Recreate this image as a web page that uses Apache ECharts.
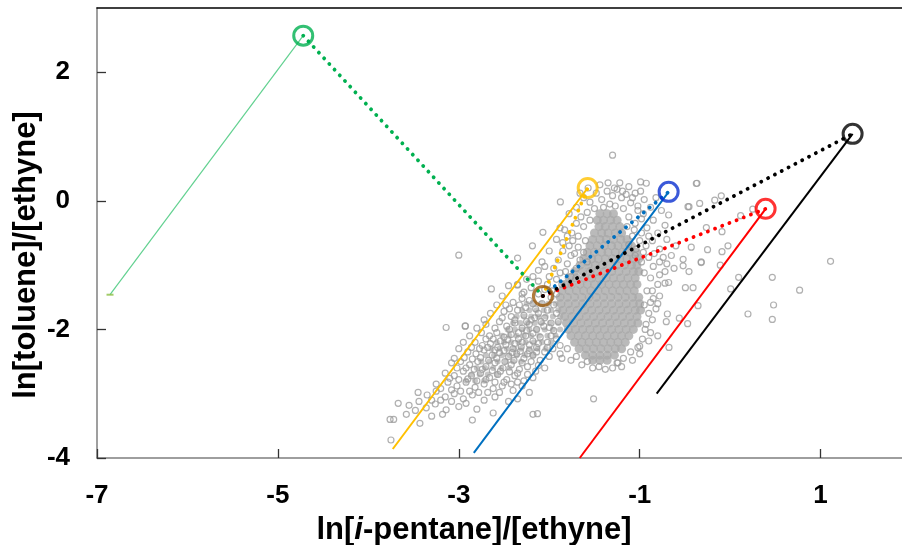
<!DOCTYPE html>
<html><head><meta charset="utf-8">
<script src="https://cdn.jsdelivr.net/npm/echarts@6/dist/echarts.min.js"></script>
<style>html,body{margin:0;padding:0;background:#fff}#c{width:902px;height:545px}</style>
</head><body><div id="c"></div>
<script>
const xTicks = [-7, -5, -3, -1, 1];
const yTicks = [-4, -2, 0, 2];

// endpoints (circles): green, yellow, blue, red, black, brown
const endX = [-4.72, -1.575, -0.68, 0.392, 1.354, -2.07];
const endY = [2.57, 0.20, 0.14, -0.124, 1.042, -1.48];
// solid line start points: green, yellow, blue, red, black
const startX = [-6.856, -3.73, -2.834, -1.663, -0.812];
const startY = [-1.46, -3.86, -3.92, -4.0, -3.0];

// dense core of observations
const coreRows = [
  [-0.20, [-1.44, -1.36, -1.29]],
  [-0.30, [-1.47, -1.40, -1.32, -1.25]],
  [-0.40, [-1.45, -1.38, -1.30, -1.22]],
  [-0.50, [-1.50, -1.42, -1.35, -1.27, -1.20]],
  [-0.60, [-1.52, -1.44, -1.37, -1.29, -1.21, -1.14]],
  [-0.70, [-1.55, -1.47, -1.39, -1.31, -1.24, -1.16, -1.09]],
  [-0.80, [-1.58, -1.50, -1.42, -1.35, -1.27, -1.19, -1.11, -1.04]],
  [-0.90, [-1.62, -1.53, -1.46, -1.38, -1.30, -1.22, -1.14, -1.07, -1.01]],
  [-1.00, [-1.66, -1.57, -1.49, -1.41, -1.33, -1.25, -1.17, -1.09, -1.03]],
  [-1.10, [-1.72, -1.63, -1.55, -1.47, -1.39, -1.31, -1.23, -1.15, -1.07, -1.01]],
  [-1.20, [-1.78, -1.70, -1.61, -1.53, -1.45, -1.37, -1.29, -1.21, -1.13, -1.05]],
  [-1.30, [-1.83, -1.75, -1.66, -1.58, -1.50, -1.42, -1.34, -1.26, -1.18, -1.10, -1.03]],
  [-1.40, [-1.86, -1.78, -1.70, -1.62, -1.54, -1.46, -1.38, -1.30, -1.22, -1.14, -1.06]],
  [-1.50, [-1.88, -1.80, -1.72, -1.64, -1.56, -1.48, -1.40, -1.32, -1.24, -1.16, -1.08, -1.01]],
  [-1.60, [-1.87, -1.79, -1.71, -1.63, -1.55, -1.47, -1.39, -1.31, -1.23, -1.15, -1.07, -1.00]],
  [-1.70, [-1.85, -1.77, -1.69, -1.61, -1.53, -1.45, -1.37, -1.29, -1.21, -1.13, -1.05, -0.99]],
  [-1.80, [-1.83, -1.75, -1.67, -1.59, -1.51, -1.43, -1.35, -1.27, -1.19, -1.11, -1.03]],
  [-1.90, [-1.81, -1.73, -1.65, -1.57, -1.49, -1.41, -1.33, -1.25, -1.17, -1.09, -1.02]],
  [-2.00, [-1.79, -1.71, -1.63, -1.55, -1.47, -1.39, -1.31, -1.23, -1.15, -1.07]],
  [-2.10, [-1.76, -1.68, -1.60, -1.52, -1.44, -1.36, -1.28, -1.20, -1.12]],
  [-2.20, [-1.72, -1.64, -1.56, -1.48, -1.40, -1.32, -1.24, -1.16]],
  [-2.30, [-1.67, -1.59, -1.51, -1.43, -1.35, -1.27, -1.20]],
  [-2.40, [-1.60, -1.52, -1.44, -1.36, -1.28]],
  [-2.48, [-1.52, -1.44, -1.36]]
];

// medium-density band of observations (lower-left arm)
const armRows = [
  [-1.60, [-2.25, -2.17, -2.09, -2.01, -1.93]],
  [-1.70, [-2.30, -2.22, -2.14, -2.06, -1.98, -1.90]],
  [-1.80, [-2.36, -2.28, -2.20, -2.12, -2.04, -1.96, -1.88]],
  [-1.90, [-2.40, -2.32, -2.24, -2.16, -2.08, -1.99, -1.90]],
  [-2.00, [-2.46, -2.38, -2.30, -2.22, -2.14, -2.05, -1.96, -1.88]],
  [-2.10, [-2.52, -2.44, -2.36, -2.28, -2.20, -2.11, -2.02, -1.93]],
  [-2.20, [-2.58, -2.50, -2.42, -2.34, -2.26, -2.17, -2.08, -1.98]],
  [-2.30, [-2.64, -2.55, -2.47, -2.39, -2.31, -2.22, -2.13, -2.04]],
  [-2.40, [-2.70, -2.61, -2.52, -2.44, -2.36, -2.27, -2.18]],
  [-2.50, [-2.75, -2.66, -2.57, -2.48, -2.40, -2.31]],
  [-2.60, [-2.80, -2.71, -2.62, -2.53, -2.44]],
  [-2.70, [-2.86, -2.77, -2.68, -2.58]],
  [-2.80, [-2.92, -2.82, -2.72]]
];

// individual observations (hollow circles)
const obsPoints = [
  [-1.62,0.05],[-1.55,-0.02],[-1.48,0.12],[-1.42,0.02],[-1.36,0.15],[-1.30,0.08],[-1.25,0.18],[-1.20,0.05],[-1.12,0.22],[-1.05,0.12],
  [-1.33,-0.05],[-1.40,-0.10],[-1.50,-0.12],[-1.58,-0.18],[-1.65,-0.25],[-1.27,-0.08],[-1.18,-0.12],[-1.10,-0.03],[-1.02,-0.08],[-0.95,0.02],
  [-0.88,-0.10],[-1.70,-0.35],[-1.62,-0.40],[-1.55,-0.30],[-1.75,-0.50],[-1.68,-0.55],[-1.60,-0.62],[-1.12,-0.25],[-1.05,-0.35],[-0.98,-0.28],
  [-0.92,-0.42],[-0.85,-0.30],[-0.80,-0.50],[-0.72,-0.38],[-1.08,-0.55],[-1.00,-0.62],[-0.93,-0.70],[-0.86,-0.62],[-0.78,-0.75],[-0.70,-0.60],
  [-0.65,-0.85],[-0.60,-0.70],[-1.78,-0.70],[-1.85,-0.78],[-1.72,-0.82],[-1.90,-0.92],[-1.80,-0.98],[-1.95,-1.05],[-1.88,-1.12],[-2.00,-1.18],
  [-1.05,-0.85],[-0.98,-0.95],[-0.90,-0.88],[-0.85,-1.02],[-0.78,-0.95],[-0.72,-1.10],[-0.95,-1.12],[-0.88,-1.20],[-0.80,-1.30],[-0.92,-1.40],
  [-0.85,-1.52],[-0.95,-1.62],[-0.90,-1.75],[-0.82,-1.68],[-0.93,-1.92],[-0.88,-2.05],[-0.97,-2.15],[-1.02,-2.28],[-1.10,-2.35],[-1.18,-2.45],
  [-1.25,-2.52],[-1.45,-2.58],[-1.58,-2.50],[-1.70,-2.42],[-1.80,-2.30],[-1.30,-2.60],
  [-1.70,-0.10],[-1.66,0.12],[-1.57,0.20],[-1.44,0.25],[-1.22,0.28],[-1.15,0.10],[-0.99,0.15],[-0.82,0.05],[-0.76,-0.15],[-0.68,-0.22],
  [-1.78,-0.20],[-1.83,-0.45],[-1.92,-0.60],[-2.00,-0.78],[-2.08,-0.95],[-2.12,-1.08],[-2.05,-1.02],
  [-1.88,-0.42],[-1.80,-0.55],[-1.74,-0.62],[-1.85,-0.65],[-1.68,-0.72],[-1.76,-0.85],[-1.66,-0.92],[-1.70,-1.05],[-1.62,-0.80],[-1.58,-0.95],
  [-1.82,-1.10],[-1.76,-1.18],[-1.92,-1.22],[-1.86,-1.30],[-2.02,-1.30],
  [-1.28,0.20],[-1.35,0.28],[-1.19,0.15],[-1.08,0.05],[-1.02,-0.15],[-0.96,-0.20],[-1.14,-0.40],[-1.06,-0.45],[-0.98,-0.50],[-0.90,-0.55],
  [-1.12,-0.68],[-1.04,-0.75],[-0.96,-0.80],[-0.84,-0.82],[-0.74,-0.88],[-0.70,-0.98],[-0.62,-1.05],[-0.78,-1.15],[-0.72,-1.28],[-0.86,-1.40],
  [-0.78,-1.48],[-0.88,-1.58],[-0.80,-1.60],[-0.86,-1.85],[-0.94,-2.00],[-0.90,-2.18],[-1.00,-2.38],[-1.08,-2.48],[-1.20,-2.58],[-1.38,-2.62],
  [-1.52,-2.60],[-1.64,-2.55],[-1.76,-2.48],[-1.86,-2.45],
  [-2.64,-1.37],[-2.45,-1.32],[-2.35,-1.30],[-2.28,-1.42],[-2.20,-1.35],[-2.12,-1.45],[-2.22,-1.55],[-2.30,-1.52],[-2.40,-1.58],[-2.05,-1.38],
  [-1.98,-1.50],[-2.08,-1.60],[-1.95,-1.62],[-2.15,-1.68],
  [-2.50,-1.72],[-2.42,-1.80],[-2.35,-1.70],[-2.28,-1.78],[-2.20,-1.85],[-2.12,-1.75],[-2.05,-1.82],[-1.98,-1.90],[-2.55,-1.88],[-2.47,-1.95],
  [-2.38,-1.90],[-2.30,-1.98],[-2.22,-1.92],[-2.14,-2.00],[-2.06,-1.95],[-1.95,-2.02],[-2.60,-1.98],[-3.14,-1.97],[-2.93,-1.95],[-2.70,-1.92],
  [-2.75,-2.05],[-2.66,-2.10],[-2.58,-2.05],[-2.50,-2.12],[-2.42,-2.08],[-2.34,-2.15],[-2.26,-2.10],[-2.18,-2.18],[-2.10,-2.12],[-2.02,-2.20],
  [-1.92,-2.15],[-2.82,-2.20],[-2.74,-2.25],[-2.65,-2.22],[-2.57,-2.28],[-2.48,-2.24],[-2.40,-2.30],[-2.31,-2.27],[-2.22,-2.33],[-2.14,-2.28],
  [-2.05,-2.35],[-1.96,-2.30],[-1.88,-2.38],[-2.90,-2.35],[-2.81,-2.38],[-2.72,-2.32],[-2.63,-2.40],[-2.55,-2.36],[-2.45,-2.42],[-2.36,-2.38],
  [-2.28,-2.45],[-2.18,-2.40],[-2.10,-2.48],[-3.00,-2.30],[-3.05,-2.45],
  [-3.08,-2.52],[-2.98,-2.50],[-2.88,-2.55],[-2.79,-2.50],[-2.70,-2.58],[-2.60,-2.52],[-2.51,-2.60],[-2.42,-2.55],[-2.33,-2.62],[-2.24,-2.58],
  [-2.15,-2.65],[-2.05,-2.60],[-3.15,-2.68],[-3.05,-2.72],[-2.95,-2.65],[-2.86,-2.72],[-2.76,-2.68],[-2.66,-2.75],[-2.57,-2.70],[-2.47,-2.78],
  [-2.38,-2.72],[-2.28,-2.80],[-2.18,-2.75],[-3.25,-2.85],[-3.12,-2.82],[-3.02,-2.88],[-2.92,-2.82],[-2.82,-2.90],[-2.72,-2.85],[-2.62,-2.92],
  [-2.52,-2.88],[-2.40,-2.95],[-2.30,-2.88],[-2.22,-2.98],
  [-3.45,-2.98],[-3.35,-3.02],[-3.25,-2.96],[-3.15,-3.05],[-3.05,-3.00],[-2.95,-3.08],[-2.85,-3.02],[-2.72,-3.10],[-2.60,-3.05],[-2.45,-3.12],
  [-2.35,-3.08],[-3.67,-3.15],[-3.55,-3.18],[-3.44,-3.12],[-3.36,-3.22],[-3.26,-3.16],[-3.14,-3.25],[-3.00,-3.20],[-2.80,-3.24],[-2.62,-3.30],
  [-2.85,-3.41],[-3.76,-3.40],[-3.72,-3.40],[-3.58,-3.32],[-3.43,-3.46],[-3.30,-3.35],[-2.18,-3.32],[-2.13,-3.31],[-3.75,-3.72],[-1.51,-3.08],
  [-1.24,-2.52],
  [-2.33,-1.62],[-2.26,-1.66],[-2.18,-1.60],[-2.02,-1.70],[-1.92,-1.75],[-2.44,-1.68],[-2.38,-1.85],[-2.25,-1.88],[-2.16,-1.82],[-2.09,-1.88],
  [-2.00,-1.97],[-1.90,-1.88],[-2.52,-1.82],[-2.44,-2.00],[-2.34,-2.05],[-2.25,-2.02],[-2.18,-2.06],[-1.98,-2.10],[-1.88,-2.25],[-2.70,-2.15],
  [-2.62,-2.15],[-2.54,-2.18],[-2.46,-2.16],[-2.38,-2.22],[-2.30,-2.20],[-2.22,-2.24],[-2.12,-2.22],[-2.02,-2.28],[-2.86,-2.28],[-2.77,-2.30],
  [-2.68,-2.28],[-2.60,-2.32],[-2.50,-2.33],[-2.41,-2.36],[-2.32,-2.34],[-2.24,-2.38],[-2.14,-2.35],[-2.00,-2.42],[-2.94,-2.44],[-2.85,-2.46],
  [-2.76,-2.44],[-2.67,-2.48],[-2.58,-2.45],[-2.49,-2.50],[-2.39,-2.48],[-2.30,-2.52],[-2.20,-2.50],[-2.12,-2.56],[-3.02,-2.60],[-2.92,-2.60],
  [-2.83,-2.62],[-2.74,-2.62],[-2.63,-2.64],[-2.54,-2.65],[-2.44,-2.66],[-2.35,-2.68],[-2.24,-2.70],[-3.10,-2.76],[-3.00,-2.78],[-2.90,-2.77],
  [-2.80,-2.80],[-2.70,-2.78],[-2.60,-2.82],[-2.50,-2.82],[-2.42,-2.85],[-2.35,-2.82],[-3.20,-2.92],[-3.08,-2.94],[-2.98,-2.96],[-2.88,-2.96],
  [-2.78,-2.98],[-2.68,-2.98],[-2.55,-2.98],[-3.30,-3.10],[-3.20,-3.10],[-3.08,-3.12],[-2.92,-3.15],[-3.48,-3.26],[-3.18,-3.32],
  [-2.12,-1.25],[-2.18,-1.18],[-2.25,-1.22],[-1.97,-1.40],[-1.92,-1.45],[-2.30,-1.45],[-2.52,-1.48],[-2.58,-1.62],[-2.48,-1.62],[-2.65,-1.75],
  [-2.72,-1.85],[-2.80,-1.98],[-2.88,-2.10],[-2.95,-2.20],
  [-0.80,-2.10],[-0.694,-1.76],[-0.706,-1.88],[-0.562,-1.825],[-0.676,-2.28],[-0.32,-0.96],[-0.52,-1.01],[-0.41,-1.35],[-0.68,-1.27],[-1.00,-2.26],
  [-1.30,0.71],[-3.00,-0.845],[-1.877,-0.016],[-0.99,0.295],[-0.927,0.274],[-0.367,0.274],[-0.455,-0.09],[-2.186,-0.70],[-2.07,-0.49],[-2.352,-1.312],
  [-2.35,-0.89],[-2.927,-1.945],
  [-0.374,0.27],[1.11,-0.94],[0.466,-1.19],[0.768,-1.39],[0.48,-1.62],[0.197,-1.76],[0.466,-1.845],[0.094,-1.19],[0.006,-1.37],[-0.109,-1.0],
  [-0.09,-0.79],[-0.024,-0.70],[-0.32,-0.95],[-0.25,-0.76],[-0.455,-1.10],[-0.495,-1.35],[-0.355,-1.63],[-0.47,-1.91],[0.116,-0.23],[0.25,-0.13],
  [-0.098,0.078],[-0.17,0.01],[-0.337,-0.04],[-0.466,-0.09],[-0.263,-0.415],[-0.09,-0.48],[-0.43,-0.72],[-0.52,-0.91]
];

function rowsToPoints(rows) {
  const out = [];
  rows.forEach(function (r) { r[1].forEach(function (x) { out.push([x, r[0]]); }); });
  return out;
}
const corePoints = rowsToPoints(coreRows);
const armPoints = rowsToPoints(armRows);

const chart = echarts.init(document.getElementById('c'), null, { renderer: 'canvas' });
const FONT = '"Liberation Sans", Arial, sans-serif';
const XMAX = 1.9;

function solid(i, color, width) {
  return { type: 'line', data: [[startX[i], startY[i]], [endX[i], endY[i]]], symbol: 'none',
    lineStyle: { color: color, width: width }, z: 3, silent: true, animation: false };
}
function dotted(i, color, fromGreen) {
  const a = [endX[5], endY[5]], b = [endX[i], endY[i]];
  return { type: 'line', data: fromGreen ? [b, a] : [a, b], symbol: 'none',
    lineStyle: { color: color, width: 3.8, type: [0.1, 7.6], cap: 'round' }, z: 4, silent: true, animation: false };
}
const ringColors = ['#00b050', '#ffc000', '#0a30cf', '#ff0000', '#000000', '#9c5a0a'];

chart.setOption({
  animation: false,
  grid: { left: 97, top: 8, right: 0, bottom: 87, containLabel: false },
  xAxis: [{
    type: 'value', min: -7, max: XMAX, interval: 2,
    axisLine: { show: true, onZero: false, lineStyle: { color: '#7f7f7f', width: 1.5 } },
    axisTick: { show: true, inside: true, length: 9, customValues: xTicks, lineStyle: { color: '#333', width: 1.3 } },
    axisLabel: { customValues: xTicks, margin: 25, color: '#000', fontSize: 26, fontWeight: 'bold', fontFamily: FONT },
    splitLine: { show: false }
  }, {
    type: 'value', position: 'top', min: -7, max: XMAX,
    axisLine: { show: true, onZero: false, lineStyle: { color: '#000', width: 1.6 } },
    axisTick: { show: false }, axisLabel: { show: false }, splitLine: { show: false }
  }],
  yAxis: {
    type: 'value', min: -4, max: 3, interval: 2,
    axisLine: { show: true, onZero: false, lineStyle: { color: '#7f7f7f', width: 1.5 } },
    axisTick: { show: true, inside: true, length: 9, customValues: yTicks, lineStyle: { color: '#333', width: 1.3 } },
    axisLabel: { customValues: yTicks, margin: 27, color: '#000', fontSize: 26, fontWeight: 'bold', fontFamily: FONT },
    splitLine: { show: false }
  },
  graphic: [
    { type: 'text', x: 26, y: 255, rotation: Math.PI / 2,
      style: { text: 'ln[toluene]/[ethyne]', fill: '#000', font: 'bold 31px "Liberation Sans", Arial, sans-serif', align: 'center', verticalAlign: 'middle' } },
    { type: 'text', x: 474, y: 530,
      style: { text: '{a|ln[}{b|i}{a|-pentane]/[ethyne]}', align: 'center', verticalAlign: 'middle',
        rich: { a: { fontSize: 31, fontWeight: 'bold', fontFamily: FONT, fill: '#000' },
                b: { fontSize: 31, fontWeight: 'bold', fontStyle: 'italic', fontFamily: FONT, fill: '#000' } } } }
  ],
  series: [
    { type: 'scatter', data: armPoints, symbol: 'circle', symbolSize: 6, itemStyle: { color: '#b8b8b8' }, z: 1, silent: true },
    { type: 'scatter', data: corePoints, symbol: 'circle', symbolSize: 9, itemStyle: { color: '#a9a9a9' }, z: 1, silent: true },
    { type: 'scatter', data: obsPoints, symbol: 'circle', symbolSize: 6,
      itemStyle: { color: 'rgba(255,255,255,0)', borderColor: '#9c9c9c', borderWidth: 1.2 }, z: 2, silent: true },
    solid(0, '#62d190', 1.2),
    solid(1, '#ffc000', 2),
    solid(2, '#0070c0', 2),
    solid(3, '#ff0000', 2),
    solid(4, '#000000', 2),
    dotted(0, '#00b050', true),
    dotted(1, '#ffc000', false),
    dotted(2, '#0070c0', false),
    dotted(3, '#ff0000', false),
    dotted(4, '#000000', false),
    { type: 'scatter', data: [[startX[0], startY[0]]], symbol: 'rect', symbolSize: [7, 2], itemStyle: { color: '#8cbf45' }, z: 5, silent: true },
    { type: 'scatter', z: 6, silent: true, symbol: 'circle', symbolSize: 19,
      data: endX.map(function (x, i) {
        return { value: [x, endY[i]], itemStyle: { color: 'rgba(255,255,255,0)', borderColor: ringColors[i], borderWidth: 3 } };
      }) }
  ]
});
</script></body></html>
